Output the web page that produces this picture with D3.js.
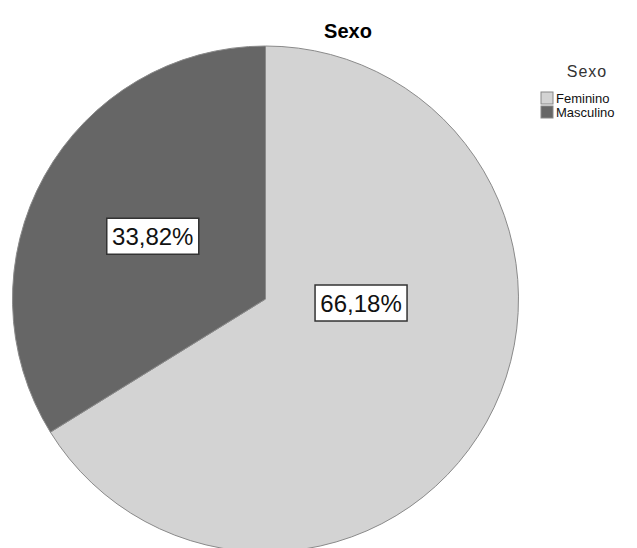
<!DOCTYPE html>
<html>
<head>
<meta charset="utf-8">
<script src="https://cdn.jsdelivr.net/npm/d3@7"></script>
<style>
  body { margin: 0; background: #fff; }
  svg { font-family: "Liberation Sans", Arial, sans-serif; }
</style>
</head>
<body>
<svg id="chart"></svg>
<script>
const categories = ["Feminino", "Masculino"];
const values = [66.18, 33.82];
const labels = ["66,18%", "33,82%"];
const colors = ["#d3d3d3", "#666666"];

const width = 637;
const height = 548;
const center = [265.5, 299];
const radius = 253;

// label anchor per slice: angle (deg, clockwise from top) and fraction of radius
const labelAnchor = [[92.4, 0.378], [299.1, 0.51]];

const svg = d3.select('#chart')
    .attr('width', width).attr('height', height);

svg.append('text')
    .attr('x', 348).attr('y', 38)
    .attr('text-anchor', 'middle')
    .style('font-size', '20px')
    .style('font-weight', 'bold')
    .text('Sexo');

const pie = d3.pie().sort(null).value(d => d);
const arc = d3.arc().innerRadius(0).outerRadius(radius);
const arcs = pie(values);

const g = svg.append('g').attr('transform', `translate(${center[0]},${center[1]})`);

g.selectAll('path.slice')
    .data(arcs)
    .enter().append('path')
    .attr('class', 'slice')
    .attr('d', arc)
    .style('fill', (d, i) => colors[i])
    .style('stroke', '#8a8a8a')
    .style('stroke-width', '1px');

const lbl = g.selectAll('g.lbl')
    .data(arcs)
    .enter().append('g')
    .attr('class', 'lbl')
    .attr('transform', (d, i) => {
        const a = labelAnchor[i][0] * Math.PI / 180;
        const r = labelAnchor[i][1] * radius;
        return `translate(${r * Math.sin(a)},${-r * Math.cos(a)})`;
    });

lbl.append('rect')
    .attr('x', -46).attr('y', -18)
    .attr('width', 92).attr('height', 36)
    .style('fill', '#fff')
    .style('stroke', '#333')
    .style('stroke-width', '1.5px');

lbl.append('text')
    .attr('text-anchor', 'middle')
    .attr('y', 9)
    .style('font-size', '24px')
    .style('fill', '#111')
    .text((d, i) => labels[i]);

// legend
const legend = svg.append('g');
legend.append('text')
    .attr('x', 587).attr('y', 77)
    .attr('text-anchor', 'middle')
    .style('font-size', '16px')
    .style('letter-spacing', '1px')
    .style('fill', '#333')
    .text('Sexo');

const items = legend.selectAll('g.item')
    .data(categories)
    .enter().append('g')
    .attr('class', 'item')
    .attr('transform', (d, i) => `translate(541,${92 + i * 14})`);

items.append('rect')
    .attr('width', 12).attr('height', 12)
    .style('fill', (d, i) => colors[i])
    .style('stroke', '#888')
    .style('stroke-width', '1px');

items.append('text')
    .attr('x', 15).attr('y', 11)
    .style('font-size', '13px')
    .style('fill', '#111')
    .text(d => d);
</script>
</body>
</html>
